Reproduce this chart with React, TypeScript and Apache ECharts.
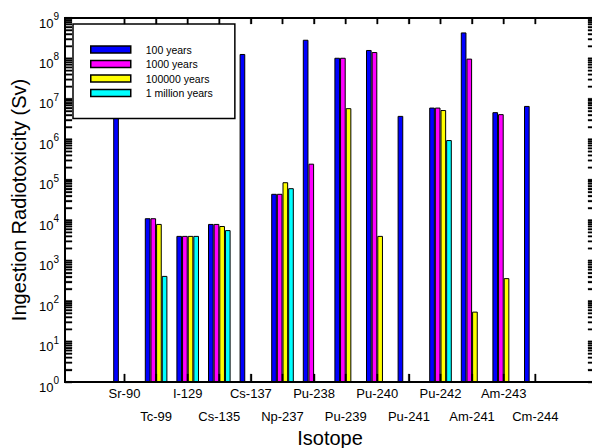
import React, { useEffect, useRef } from "react";
import * as echarts from "echarts";

const isotopes = ["Sr-90", "Tc-99", "I-129", "Cs-135", "Cs-137", "Np-237", "Pu-238", "Pu-239", "Pu-240", "Pu-241", "Pu-242", "Am-241", "Am-243", "Cm-244"];
const seriesNames = ["100 years", "1000 years", "100000 years", "1 million years"];
const seriesColors = ["#0000FF", "#FF00FF", "#FFFF00", "#00FFFF"];
const years100 = [9e7, 1.12e4, 4.1e3, 8.1e3, 1.29e8, 4.5e4, 2.9e8, 1.04e8, 1.62e8, 3.8e6, 6.1e6, 4.4e8, 4.7e6, 6.7e6];
const years1000 = [null, 1.12e4, 4.1e3, 8.1e3, null, 4.5e4, 2.5e5, 1.04e8, 1.44e8, null, 6.1e6, 9.9e7, 4.2e6, null];
const years100000 = [null, 8.1e3, 4.1e3, 7.2e3, null, 8.7e4, null, 5.9e6, 4.1e3, null, 5.3e6, 55, 370, null];
const years1M = [null, 420, 4.1e3, 5.7e3, null, 6.2e4, null, null, null, null, 9.6e5, null, null, null];
const decadeExponents = [0, 1, 2, 3, 4, 5, 6, 7, 8, 9];
const minorMultipliers = [1, 2, 3, 4, 5, 6, 7, 8, 9];

const FONT = "Liberation Sans, Arial, sans-serif";

export default function App() {
  const ref = useRef<HTMLDivElement>(null);
  useEffect(() => {
    if (!ref.current) return;
    const chart = echarts.init(ref.current, undefined, { renderer: "svg" });
    const positions = isotopes.map((_, i) => i + 1);
    const decades = decadeExponents.map((e) => Math.pow(10, e));
    const allTicks: number[] = [];
    decadeExponents.forEach((e) => {
      if (e === 9) { allTicks.push(1e9); return; }
      minorMultipliers.forEach((m) => allTicks.push(m * Math.pow(10, e)));
    });
    const allData = [years100, years1000, years100000, years1M];
    const xMin = -0.883;
    const xMax = 15.889;
    const yMin = 1;
    const yMax = 1e9;
    const axisLineStyle = { color: "#000", width: 2 };
    const tickLineStyle = { color: "#000", width: 1.3 };
    const ink = { fill: "#000", stroke: "#000", lineWidth: 0.3 };
    const yLabelFmt = (v: number) => `{b|10}{s|${Math.round(Math.log10(v))}}`;
    const yRich = {
      b: { fontSize: 13, fontFamily: FONT, color: "#000", verticalAlign: "bottom" as const, lineHeight: 18 },
      s: { fontSize: 10, fontFamily: FONT, color: "#000", verticalAlign: "top" as const, lineHeight: 10 },
    };
    const xAxisBase = {
      type: "value" as const,
      min: xMin,
      max: xMax,
      splitLine: { show: false },
      axisLine: { show: true, onZero: false, lineStyle: axisLineStyle },
      axisLabel: { show: false },
    };
    const yAxisBase = {
      type: "log" as const,
      logBase: 10,
      min: yMin,
      max: yMax,
      splitLine: { show: false },
      axisLine: { show: true, onZero: false, lineStyle: axisLineStyle },
      axisTick: { show: true, inside: true, length: 7, customValues: allTicks, lineStyle: tickLineStyle },
    };
    chart.setOption({
      animation: false,
      backgroundColor: "#fff",
      textStyle: { fontFamily: FONT },
      grid: {
        left: 65, top: 18, width: 530, height: 364, containLabel: false, outerBoundsMode: "none",
        show: true, borderColor: "#000", borderWidth: 2, backgroundColor: "transparent",
      },
      legend: {
        orient: "vertical",
        left: 73,
        top: 24,
        padding: [20, 22, 20, 17],
        itemWidth: 40,
        itemHeight: 7,
        itemGap: 3.5,
        backgroundColor: "#fff",
        borderColor: "#000",
        borderWidth: 1.5,
        icon: "rect",
        data: seriesNames,
        itemStyle: { borderColor: "#000", borderWidth: 1.5 },
        textStyle: { fontSize: 10.5, fontFamily: FONT, color: "#000", lineHeight: 10, padding: [0, 0, 0, 10] },
      },
      xAxis: [
        {
          ...xAxisBase,
          position: "bottom",
          axisTick: { show: true, inside: true, length: 8, customValues: positions, lineStyle: tickLineStyle },
          name: "Isotope",
          nameLocation: "middle",
          nameGap: 46,
          nameMoveOverlap: false,
          nameTextStyle: { fontSize: 20, color: "#000", fontFamily: FONT },
        },
        {
          ...xAxisBase,
          position: "top",
          axisTick: { show: true, inside: true, length: 6, customValues: positions, lineStyle: tickLineStyle },
        },
      ],
      yAxis: [
        {
          ...yAxisBase,
          position: "left",
          axisLabel: { customValues: decades, formatter: yLabelFmt, rich: yRich, margin: 6, padding: [5, 0, 0, 0] },
          name: "Ingestion Radiotoxicity (Sv)",
          nameLocation: "middle",
          nameGap: 36,
          nameMoveOverlap: false,
          nameTextStyle: { fontSize: 20, color: "#000", fontFamily: FONT },
        },
        {
          ...yAxisBase,
          position: "right",
          axisLabel: { show: false },
        },
      ],
      series: [
        ...allData.map((vals, si) => ({
          type: "bar",
          name: seriesNames[si],
          xAxisIndex: 0,
          yAxisIndex: 0,
          barWidth: 5.65,
          barGap: "0%",
          data: vals.map((v, i) => [positions[i], v]),
          itemStyle: { color: seriesColors[si], borderColor: "#000", borderWidth: 1 },
        })),
        {
          type: "custom",
          name: "yticks",
          xAxisIndex: 0,
          yAxisIndex: 0,
          clip: false,
          silent: true,
          z: 5,
          data: allTicks.map((v) => [xMin, v]),
          renderItem: (_params: any, api: any) => {
            const v = api.value(1);
            const l = api.coord([xMin, v]);
            const r = api.coord([xMax, v]);
            return {
              type: "group",
              children: [
                { type: "rect", shape: { x: l[0], y: l[1] - 0.65, width: 7, height: 1.3 }, style: ink },
                { type: "rect", shape: { x: r[0] - 7, y: r[1] - 0.65, width: 7, height: 1.3 }, style: ink },
              ],
            };
          },
        },
        {
          type: "custom",
          name: "xticks",
          xAxisIndex: 0,
          yAxisIndex: 0,
          clip: false,
          silent: true,
          z: 5,
          data: positions.map((p) => [p, yMin]),
          renderItem: (params: any, api: any) => {
            const p = api.value(0);
            const idx = params.dataIndex;
            const b = api.coord([p, yMin]);
            const t = api.coord([p, yMax]);
            return {
              type: "group",
              children: [
                { type: "rect", shape: { x: b[0] - 0.65, y: b[1] - 8, width: 1.3, height: 8 }, style: ink },
                { type: "rect", shape: { x: t[0] - 0.65, y: t[1], width: 1.3, height: 6 }, style: ink },
                {
                  type: "text",
                  style: {
                    text: isotopes[idx],
                    x: b[0],
                    y: b[1] + (idx % 2 === 0 ? 11 : 34),
                    align: "center",
                    verticalAlign: "middle",
                    fontSize: 13,
                    fontFamily: FONT,
                    fill: "#000",
                  },
                },
              ],
            };
          },
        },
      ],
    });
    // Frame drawn through the graphic component, with corners taken from the chart's own scales
    const bl = chart.convertToPixel({ xAxisIndex: 0, yAxisIndex: 0 } as any, [xMin, yMin]) as number[];
    const tr = chart.convertToPixel({ xAxisIndex: 0, yAxisIndex: 0 } as any, [xMax, yMax]) as number[];
    if (bl && tr && isFinite(bl[0]) && isFinite(tr[0])) {
      chart.setOption({
        graphic: [
          {
            type: "polyline",
            z: 100,
            silent: true,
            shape: { points: [[tr[0], bl[1]], [bl[0], bl[1]], [bl[0], tr[1]], [tr[0], tr[1]]] },
            style: { stroke: "#000", lineWidth: 2, fill: "none" },
          },
        ],
      });
    }
    return () => chart.dispose();
  }, []);
  return <div ref={ref} style={{ position: "fixed", left: 0, top: 0, width: 592, height: 448 }} />;
}
